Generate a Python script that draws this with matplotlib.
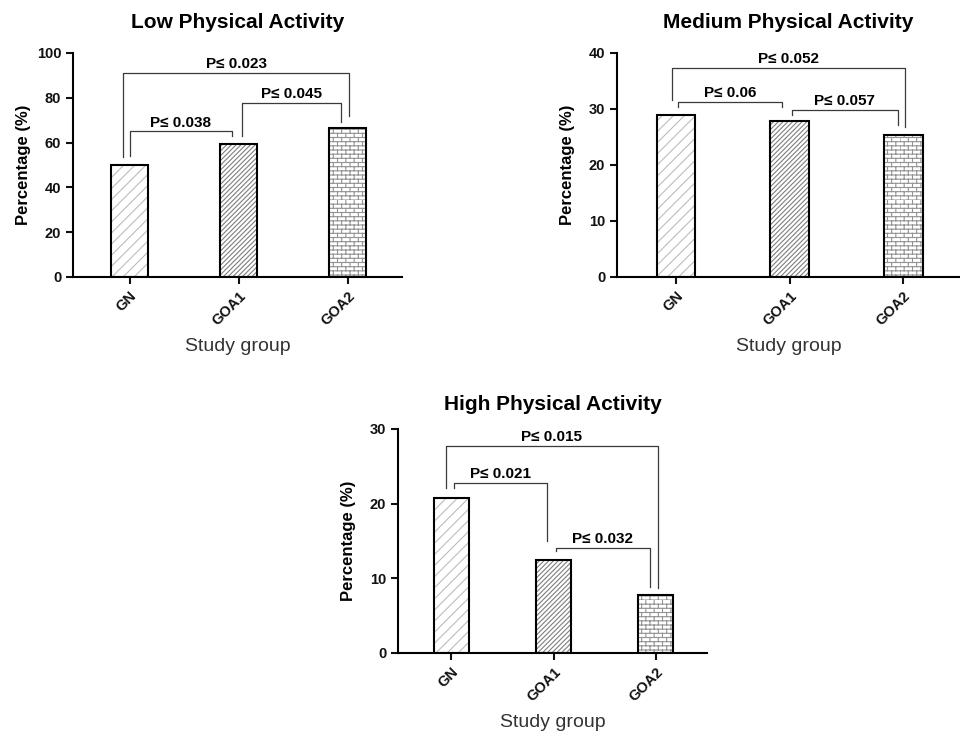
import warnings

import matplotlib
matplotlib.use("Agg")
import matplotlib.hatch as mhatch
import matplotlib.pyplot as plt
import numpy as np
from matplotlib.path import Path

warnings.filterwarnings("ignore")

groups = ["GN", "GOA1", "GOA2"]

low_pct = [50.0, 59.4, 66.7]
medium_pct = [29.0, 27.8, 25.4]
high_pct = [20.8, 12.5, 7.8]

# p-value labels: GN vs GOA1, GOA1 vs GOA2, GN vs GOA2
low_p = ["P\u2264 0.038", "P\u2264 0.045", "P\u2264 0.023"]
medium_p = ["P\u2264 0.06", "P\u2264 0.057", "P\u2264 0.052"]
high_p = ["P\u2264 0.021", "P\u2264 0.032", "P\u2264 0.015"]


class BrickHatch(mhatch.HatchPatternBase):
    """Brick wall hatch, selected with the 'b' character."""

    def __init__(self, hatch, density):
        self.rows = hatch.count("b") * int(density) * 4
        self.cols = self.rows // 2
        self.num_vertices = 2 * self.rows + 2 * self.rows * self.cols

    def set_vertices_and_codes(self, vertices, codes):
        n, m = self.rows, self.cols
        ys = np.arange(n) / n
        pts = []
        for y in ys:
            pts += [(0.0, y), (1.0, y)]
        for i, y in enumerate(ys):
            shift = 0.5 / m if i % 2 else 0.0
            for j in range(m):
                x = j / m + shift
                pts += [(x, y), (x, y + 1.0 / n)]
        vertices[:] = np.array(pts)
        codes[0::2] = Path.MOVETO
        codes[1::2] = Path.LINETO


mhatch._hatch_types.append(BrickHatch)

plt.rcParams["font.family"] = ["Liberation Sans", "DejaVu Sans"]
plt.rcParams["hatch.linewidth"] = 0.8

FIG_W, FIG_H = 960, 731
hatches = ["///", "///////", "b"]
hatch_colors = ["#bdbdbd", "#7e7e7e", "#939393"]


def px_axes(fig, left, top, right, bottom):
    return fig.add_axes([left / FIG_W, 1 - bottom / FIG_H,
                         (right - left) / FIG_W, (bottom - top) / FIG_H])


def draw_panel(ax, title, values, ymax, ystep, p_labels, brackets, width_px, title_pad):
    x = np.arange(len(groups))
    # hatch layer first, then a plain black outline on top
    for i in range(len(groups)):
        ax.bar(x[i], values[i], 0.34, color="white", edgecolor=hatch_colors[i],
               hatch=hatches[i], linewidth=0, zorder=2)
    ax.bar(x, values, 0.34, fill=False, edgecolor="black", linewidth=1.5, zorder=3)

    ax.set_xlim(-0.52, 2.5)
    ax.set_ylim(0, ymax)
    ax.set_yticks(np.arange(0, ymax + 1, ystep))
    ax.set_xticks(x)
    ax.set_xticklabels(groups, rotation=45, ha="right", rotation_mode="anchor",
                       fontweight="bold", fontsize=10.5)
    for lab in ax.get_yticklabels():
        lab.set_fontweight("bold")
    ax.tick_params(axis="both", direction="out", length=5, width=1.5, labelsize=10.5,
                   colors="#111111")
    for side in ["top", "right"]:
        ax.spines[side].set_visible(False)
    for side in ["left", "bottom"]:
        ax.spines[side].set_linewidth(1.5)

    ax.set_title(title, fontsize=15, fontweight="bold", pad=title_pad)
    ax.set_ylabel("Percentage (%)", fontsize=12, fontweight="bold")
    ax.yaxis.set_label_coords(-42 / width_px, 0.5)
    ax.set_xlabel("Study group", fontsize=14, color="#333333")
    ax.xaxis.set_label_coords(0.5, -61 / 224)

    # significance brackets
    for label, (x1, x2, yb1, yt, yb2) in zip(p_labels, brackets):
        ax.plot([x1, x1, x2, x2], [yb1, yt, yt, yb2], color="#3a3a3a", lw=0.9,
                clip_on=False, zorder=4)
        ax.annotate(label, ((x1 + x2) / 2, yt), xytext=(0, 3.5), textcoords="offset points",
                    ha="center", va="baseline", fontsize=11, fontweight="bold")


fig = plt.figure(figsize=(9.6, 7.31), dpi=100)

ax_low = px_axes(fig, 73, 53, 402, 277)
draw_panel(ax_low, "Low Physical Activity", low_pct, 100, 20, low_p,
           [(0.005, 0.935, 54, 65, 63),
            (1.027, 1.94, 63, 77.7, 69.3),
            (-0.06, 2.018, 53.6, 91, 72)], 329, 18)

ax_med = px_axes(fig, 617, 53, 960, 277)
draw_panel(ax_med, "Medium Physical Activity", medium_pct, 40, 10, medium_p,
           [(0.017, 0.93, 30.3, 31.3, 30.3),
            (1.017, 1.95, 28.9, 29.9, 27.1),
            (-0.037, 2.015, 31.6, 37.3, 26.8)], 343, 18)

ax_high = px_axes(fig, 398, 429, 707, 653)
draw_panel(ax_high, "High Physical Activity", high_pct, 30, 10, high_p,
           [(0.023, 0.94, 22.1, 22.8, 15),
            (1.02, 1.94, 13.6, 14.1, 8.9),
            (-0.05, 2.02, 22.1, 27.7, 8.7)], 309, 14)

fig.savefig("out.png", dpi=100)
